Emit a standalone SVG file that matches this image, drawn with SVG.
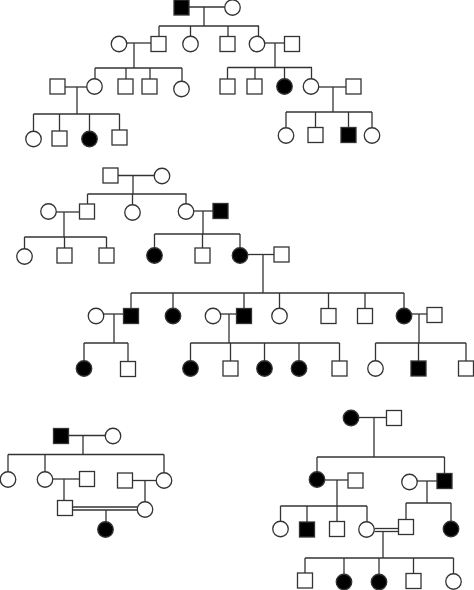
<svg xmlns="http://www.w3.org/2000/svg" width="474" height="590" viewBox="0 0 474 590">
<defs>
<style>
.c line{stroke:#333;stroke-width:1.3;fill:none}
.m,.f{stroke:#333;stroke-width:1.3;fill:#fff}
.m{width:15px;height:15px}
.a .m,.a .f{fill:#000}
</style>
</defs>
<rect width="474" height="590" fill="#fff"/>
<g id="connectors" class="c">
<!-- pedigree 1 -->
<line x1="189" y1="7" x2="225" y2="7"/>
<line x1="204" y1="7" x2="204" y2="26"/>
<line x1="159" y1="26" x2="259" y2="26"/>
<line x1="159" y1="26" x2="159" y2="36.5"/>
<line x1="190.5" y1="26" x2="190.5" y2="36.5"/>
<line x1="228" y1="26" x2="228" y2="36.5"/>
<line x1="258.5" y1="26" x2="258.5" y2="36.5"/>
<line x1="126.5" y1="43" x2="151" y2="43"/>
<line x1="134" y1="43" x2="134" y2="68"/>
<line x1="264.5" y1="43" x2="284.5" y2="43"/>
<line x1="275" y1="43" x2="275" y2="67.5"/>
<line x1="95" y1="68" x2="182" y2="68"/>
<line x1="95" y1="68" x2="95" y2="79"/>
<line x1="126" y1="68" x2="126" y2="79"/>
<line x1="150" y1="68" x2="150" y2="79"/>
<line x1="182" y1="68" x2="182" y2="81.5"/>
<line x1="65" y1="87" x2="87" y2="87"/>
<line x1="77" y1="87" x2="77" y2="114"/>
<line x1="33.5" y1="114" x2="119.5" y2="114"/>
<line x1="33.5" y1="114" x2="33.5" y2="131"/>
<line x1="59.5" y1="114" x2="59.5" y2="131"/>
<line x1="89.5" y1="114" x2="89.5" y2="131.5"/>
<line x1="119.5" y1="114" x2="119.5" y2="130"/>
<line x1="227.5" y1="67.5" x2="312" y2="67.5"/>
<line x1="227.5" y1="67.5" x2="227.5" y2="79"/>
<line x1="255" y1="67.5" x2="255" y2="79"/>
<line x1="284.5" y1="67.5" x2="284.5" y2="79"/>
<line x1="311.5" y1="67.5" x2="311.5" y2="79"/>
<line x1="318.5" y1="87" x2="346" y2="87"/>
<line x1="333" y1="87" x2="333" y2="112"/>
<line x1="286" y1="112" x2="372" y2="112"/>
<line x1="286" y1="112" x2="286" y2="127.5"/>
<line x1="315.5" y1="112" x2="315.5" y2="127.5"/>
<line x1="348.5" y1="112" x2="348.5" y2="127.5"/>
<line x1="372" y1="112" x2="372" y2="127.5"/>
<!-- pedigree 2 -->
<line x1="118" y1="175.5" x2="154.5" y2="175.5"/>
<line x1="133" y1="175.5" x2="133" y2="194"/>
<line x1="87.5" y1="194" x2="186.5" y2="194"/>
<line x1="87.5" y1="194" x2="87.5" y2="204"/>
<line x1="132.5" y1="194" x2="132.5" y2="205"/>
<line x1="186" y1="194" x2="186" y2="204"/>
<line x1="56" y1="212" x2="79.5" y2="212"/>
<line x1="64" y1="212" x2="64" y2="237"/>
<line x1="24.5" y1="237" x2="106.5" y2="237"/>
<line x1="24.5" y1="237" x2="24.5" y2="249"/>
<line x1="64.5" y1="237" x2="64.5" y2="248"/>
<line x1="106.5" y1="237" x2="106.5" y2="248"/>
<line x1="193.5" y1="211" x2="213" y2="211"/>
<line x1="203" y1="211" x2="203" y2="234"/>
<line x1="154.5" y1="234" x2="240" y2="234"/>
<line x1="154.5" y1="234" x2="154.5" y2="248"/>
<line x1="202.5" y1="234" x2="202.5" y2="248"/>
<line x1="240" y1="234" x2="240" y2="248"/>
<line x1="248" y1="254.5" x2="274" y2="254.5"/>
<line x1="263" y1="254.5" x2="263" y2="293"/>
<line x1="131" y1="293" x2="404" y2="293"/>
<line x1="131" y1="293" x2="131" y2="308.5"/>
<line x1="173" y1="293" x2="173" y2="308.5"/>
<line x1="244" y1="293" x2="244" y2="308.5"/>
<line x1="279.5" y1="293" x2="279.5" y2="308.5"/>
<line x1="328.5" y1="293" x2="328.5" y2="308.5"/>
<line x1="365" y1="293" x2="365" y2="308.5"/>
<line x1="404" y1="293" x2="404" y2="308.5"/>
<line x1="104" y1="314" x2="123.5" y2="314"/>
<line x1="114" y1="314" x2="114" y2="343"/>
<line x1="84" y1="343" x2="128" y2="343"/>
<line x1="84" y1="343" x2="84" y2="361"/>
<line x1="128" y1="343" x2="128" y2="361.5"/>
<line x1="221" y1="314" x2="236.5" y2="314"/>
<line x1="229" y1="314" x2="229" y2="343"/>
<line x1="190.5" y1="343" x2="339.5" y2="343"/>
<line x1="190.5" y1="343" x2="190.5" y2="361"/>
<line x1="230.5" y1="343" x2="230.5" y2="361"/>
<line x1="264.5" y1="343" x2="264.5" y2="361"/>
<line x1="299" y1="343" x2="299" y2="361"/>
<line x1="339.5" y1="343" x2="339.5" y2="361"/>
<line x1="412" y1="314" x2="427" y2="314"/>
<line x1="419" y1="314" x2="419" y2="343"/>
<line x1="375.5" y1="343" x2="466" y2="343"/>
<line x1="375.5" y1="343" x2="375.5" y2="361"/>
<line x1="418.5" y1="343" x2="418.5" y2="361"/>
<line x1="466" y1="343" x2="466" y2="361"/>
<!-- pedigree 3 -->
<line x1="68.5" y1="435.5" x2="105.5" y2="435.5"/>
<line x1="83" y1="435.5" x2="83" y2="454.5"/>
<line x1="8" y1="454.5" x2="164" y2="454.5"/>
<line x1="8" y1="454.5" x2="8" y2="472"/>
<line x1="45" y1="454.5" x2="45" y2="472"/>
<line x1="164" y1="454.5" x2="164" y2="473"/>
<line x1="52.5" y1="479" x2="79.5" y2="479"/>
<line x1="64" y1="479" x2="64" y2="500.5"/>
<line x1="132.5" y1="480.5" x2="156.5" y2="480.5"/>
<line x1="145" y1="480.5" x2="145" y2="502"/>
<line x1="72.5" y1="507" x2="137.5" y2="507"/>
<line x1="72.5" y1="510" x2="137.5" y2="510"/>
<line x1="106" y1="510" x2="106" y2="522"/>
<!-- pedigree 4 -->
<line x1="358.5" y1="417.5" x2="386.5" y2="417.5"/>
<line x1="374" y1="417.5" x2="374" y2="457"/>
<line x1="317" y1="457" x2="444.5" y2="457"/>
<line x1="317" y1="457" x2="317" y2="472"/>
<line x1="444.5" y1="457" x2="444.5" y2="473.5"/>
<line x1="324.5" y1="480" x2="348" y2="480"/>
<line x1="337" y1="480" x2="337" y2="506"/>
<line x1="280.5" y1="506" x2="367" y2="506"/>
<line x1="280.5" y1="506" x2="280.5" y2="521.5"/>
<line x1="307" y1="506" x2="307" y2="522"/>
<line x1="337" y1="506" x2="337" y2="521.5"/>
<line x1="367" y1="506" x2="367" y2="522"/>
<line x1="417" y1="481" x2="437" y2="481"/>
<line x1="427" y1="481" x2="427" y2="503"/>
<line x1="406" y1="503" x2="451" y2="503"/>
<line x1="406" y1="503" x2="406" y2="519.5"/>
<line x1="451" y1="503" x2="451" y2="521.5"/>
<line x1="374.5" y1="528.5" x2="398.5" y2="528.5"/>
<line x1="374.5" y1="531.5" x2="398.5" y2="531.5"/>
<line x1="383" y1="531.5" x2="383" y2="558"/>
<line x1="305" y1="558" x2="453.5" y2="558"/>
<line x1="305" y1="558" x2="305" y2="573"/>
<line x1="344" y1="558" x2="344" y2="574.5"/>
<line x1="379" y1="558" x2="379" y2="574.5"/>
<line x1="413.5" y1="558" x2="413.5" y2="573.5"/>
<line x1="453.5" y1="558" x2="453.5" y2="574"/>
</g>
<!-- pedigree 1 nodes -->
<g id="p1-1" class="a"><rect class="m" x="174" y="0" width="15" height="15"/></g>
<g id="p1-2"><circle class="f" cx="232.5" cy="7.5" r="7.75"/></g>
<g id="p1-3"><circle class="f" cx="119" cy="44" r="7.75"/></g>
<g id="p1-4"><rect class="m" x="151" y="36.5" width="15" height="15"/></g>
<g id="p1-5"><circle class="f" cx="190.5" cy="44" r="7.75"/></g>
<g id="p1-6"><rect class="m" x="220" y="36.5" width="15" height="15"/></g>
<g id="p1-7"><circle class="f" cx="257" cy="44" r="7.75"/></g>
<g id="p1-8"><rect class="m" x="284.5" y="36.5" width="15" height="15"/></g>
<g id="p1-9"><rect class="m" x="50" y="79" width="15" height="15"/></g>
<g id="p1-10"><circle class="f" cx="94.5" cy="86.5" r="7.75"/></g>
<g id="p1-11"><rect class="m" x="118" y="79" width="15" height="15"/></g>
<g id="p1-12"><rect class="m" x="142" y="79" width="15" height="15"/></g>
<g id="p1-13"><circle class="f" cx="181.5" cy="89" r="7.75"/></g>
<g id="p1-14"><rect class="m" x="220" y="79" width="15" height="15"/></g>
<g id="p1-15"><rect class="m" x="247" y="79" width="15" height="15"/></g>
<g id="p1-16" class="a"><circle class="f" cx="284.5" cy="86.5" r="7.75"/></g>
<g id="p1-17"><circle class="f" cx="311" cy="86.5" r="7.75"/></g>
<g id="p1-18"><rect class="m" x="346" y="79" width="15" height="15"/></g>
<g id="p1-19"><circle class="f" cx="33.5" cy="139" r="7.75"/></g>
<g id="p1-20"><rect class="m" x="52" y="131" width="15" height="15"/></g>
<g id="p1-21" class="a"><circle class="f" cx="89.5" cy="139" r="7.75"/></g>
<g id="p1-22"><rect class="m" x="112" y="130" width="15" height="15"/></g>
<g id="p1-23"><circle class="f" cx="286" cy="135.5" r="7.75"/></g>
<g id="p1-24"><rect class="m" x="308" y="127.5" width="15" height="15"/></g>
<g id="p1-25" class="a"><rect class="m" x="341" y="127.5" width="15" height="15"/></g>
<g id="p1-26"><circle class="f" cx="372" cy="135.5" r="7.75"/></g>
<!-- pedigree 2 nodes -->
<g id="p2-1"><rect class="m" x="103" y="168" width="15" height="15"/></g>
<g id="p2-2"><circle class="f" cx="162" cy="176" r="7.75"/></g>
<g id="p2-3"><circle class="f" cx="48.5" cy="211.5" r="7.75"/></g>
<g id="p2-4"><rect class="m" x="79.5" y="204" width="15" height="15"/></g>
<g id="p2-5"><circle class="f" cx="132.5" cy="212.5" r="7.75"/></g>
<g id="p2-6"><circle class="f" cx="186" cy="211.5" r="7.75"/></g>
<g id="p2-7" class="a"><rect class="m" x="213" y="203.5" width="15" height="15"/></g>
<g id="p2-8"><circle class="f" cx="24.5" cy="256.5" r="7.75"/></g>
<g id="p2-9"><rect class="m" x="57" y="248" width="15" height="15"/></g>
<g id="p2-10"><rect class="m" x="99" y="248" width="15" height="15"/></g>
<g id="p2-11" class="a"><circle class="f" cx="154.5" cy="255.5" r="7.75"/></g>
<g id="p2-12"><rect class="m" x="195" y="248" width="15" height="15"/></g>
<g id="p2-13" class="a"><circle class="f" cx="240" cy="255.5" r="7.75"/></g>
<g id="p2-14"><rect class="m" x="274" y="247" width="15" height="15"/></g>
<g id="p2-15"><circle class="f" cx="96" cy="316" r="7.75"/></g>
<g id="p2-16" class="a"><rect class="m" x="123.5" y="308.5" width="15" height="15"/></g>
<g id="p2-17" class="a"><circle class="f" cx="173" cy="316" r="7.75"/></g>
<g id="p2-18"><circle class="f" cx="213" cy="316" r="7.75"/></g>
<g id="p2-19" class="a"><rect class="m" x="236.5" y="308.5" width="15" height="15"/></g>
<g id="p2-20"><circle class="f" cx="279.5" cy="316" r="7.75"/></g>
<g id="p2-21"><rect class="m" x="321" y="308.5" width="15" height="15"/></g>
<g id="p2-22"><rect class="m" x="357.5" y="308.5" width="15" height="15"/></g>
<g id="p2-23" class="a"><circle class="f" cx="404" cy="316" r="7.75"/></g>
<g id="p2-24"><rect class="m" x="427" y="307.5" width="15" height="15"/></g>
<g id="p2-25" class="a"><circle class="f" cx="84" cy="368.5" r="7.75"/></g>
<g id="p2-26"><rect class="m" x="120.5" y="361.5" width="15" height="15"/></g>
<g id="p2-27" class="a"><circle class="f" cx="190.5" cy="368.5" r="7.75"/></g>
<g id="p2-28"><rect class="m" x="223" y="361" width="15" height="15"/></g>
<g id="p2-29" class="a"><circle class="f" cx="264.5" cy="368.5" r="7.75"/></g>
<g id="p2-30" class="a"><circle class="f" cx="299" cy="368.5" r="7.75"/></g>
<g id="p2-31"><rect class="m" x="332" y="361" width="15" height="15"/></g>
<g id="p2-32"><circle class="f" cx="375.5" cy="368.5" r="7.75"/></g>
<g id="p2-33" class="a"><rect class="m" x="411" y="361" width="15" height="15"/></g>
<g id="p2-34"><rect class="m" x="458.5" y="361" width="15" height="15"/></g>
<!-- pedigree 3 nodes -->
<g id="p3-1" class="a"><rect class="m" x="53.5" y="428.5" width="15" height="15"/></g>
<g id="p3-2"><circle class="f" cx="113" cy="436" r="7.75"/></g>
<g id="p3-3"><circle class="f" cx="8" cy="479.5" r="7.75"/></g>
<g id="p3-4"><circle class="f" cx="45" cy="479.5" r="7.75"/></g>
<g id="p3-5"><rect class="m" x="79.5" y="471.5" width="15" height="15"/></g>
<g id="p3-6"><rect class="m" x="117.5" y="473" width="15" height="15"/></g>
<g id="p3-7"><circle class="f" cx="164" cy="480.5" r="7.75"/></g>
<g id="p3-8"><rect class="m" x="57.5" y="500.5" width="15" height="15"/></g>
<g id="p3-9"><circle class="f" cx="145" cy="509.5" r="7.75"/></g>
<g id="p3-10" class="a"><circle class="f" cx="105.5" cy="529.5" r="7.75"/></g>
<!-- pedigree 4 nodes -->
<g id="p4-1" class="a"><circle class="f" cx="351" cy="418" r="7.75"/></g>
<g id="p4-2"><rect class="m" x="386.5" y="410.5" width="15" height="15"/></g>
<g id="p4-3" class="a"><circle class="f" cx="317" cy="479.5" r="7.75"/></g>
<g id="p4-4"><rect class="m" x="348" y="473" width="15" height="15"/></g>
<g id="p4-5"><circle class="f" cx="409.5" cy="482" r="7.75"/></g>
<g id="p4-6" class="a"><rect class="m" x="437" y="473.5" width="15" height="15"/></g>
<g id="p4-7"><circle class="f" cx="280.5" cy="529" r="7.75"/></g>
<g id="p4-8" class="a"><rect class="m" x="299.5" y="522" width="15" height="15"/></g>
<g id="p4-9"><rect class="m" x="329.5" y="521.5" width="15" height="15"/></g>
<g id="p4-10"><circle class="f" cx="366.5" cy="529.5" r="7.75"/></g>
<g id="p4-11"><rect class="m" x="398.5" y="519.5" width="15" height="15"/></g>
<g id="p4-12" class="a"><circle class="f" cx="451" cy="529" r="7.75"/></g>
<g id="p4-13"><rect class="m" x="297.5" y="573" width="15" height="15"/></g>
<g id="p4-14" class="a"><circle class="f" cx="344" cy="582" r="7.75"/></g>
<g id="p4-15" class="a"><circle class="f" cx="379" cy="582" r="7.75"/></g>
<g id="p4-16"><rect class="m" x="406" y="573.5" width="15" height="15"/></g>
<g id="p4-17"><circle class="f" cx="453.5" cy="581.5" r="7.75"/></g>
</svg>
